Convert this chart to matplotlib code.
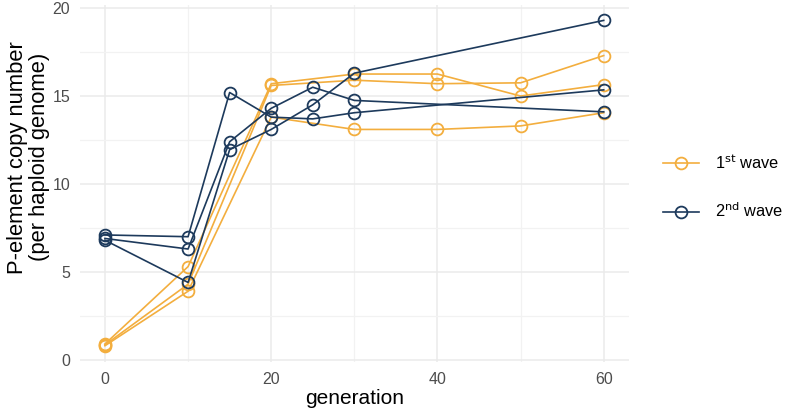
import matplotlib
matplotlib.use("Agg")
import matplotlib.pyplot as plt
from matplotlib.ticker import MultipleLocator

plt.rcParams['font.family'] = ['Liberation Sans', 'DejaVu Sans']

# 1st wave: three replicates
gen1 = [0, 10, 20, 30, 40, 50, 60]
wave1_r1 = [0.9, 5.3, 15.7, 16.25, 16.25, 15.0, 15.65]
wave1_r2 = [0.85, 4.3, 15.6, 15.9, 15.7, 15.75, 17.3]
wave1_r3 = [0.8, 3.9, 13.8, 13.1, 13.1, 13.3, 14.05]

# 2nd wave: three replicates
gen2 = [0, 10, 15, 20, 25, 30, 60]
wave2_r1 = [7.1, 7.0, 15.2, 13.8, 13.7, 14.05, 15.35]
wave2_r2 = [6.9, 6.3, 12.4, 14.3, 15.5, 14.75, 14.1]
wave2_r3 = [6.8, 4.4, 11.95, 13.1, 14.5, 16.3, 19.3]

orange = "#F3AE3E"
blue = "#1D3A5C"

fig = plt.figure(figsize=(7.86, 4.16), dpi=100)
ax = fig.add_axes([0.1018, 0.130, 0.698, 0.859])

style = dict(marker='o', markersize=8.5, markerfacecolor='none',
             markeredgewidth=1.3, linewidth=1.2)

for i, ys in enumerate([wave1_r1, wave1_r2, wave1_r3]):
    ax.plot(gen1, ys, color=orange, label=r'1$^{\mathrm{st}}$ wave' if i == 0 else None, **style)
for i, ys in enumerate([wave2_r1, wave2_r2, wave2_r3]):
    ax.plot(gen2, ys, color=blue, label=r'2$^{\mathrm{nd}}$ wave' if i == 0 else None, **style)

ax.set_xlim(-3, 63)
ax.set_ylim(-0.12, 20.2)
ax.xaxis.set_major_locator(MultipleLocator(20))
ax.xaxis.set_minor_locator(MultipleLocator(10))
ax.yaxis.set_major_locator(MultipleLocator(5))
ax.yaxis.set_minor_locator(MultipleLocator(2.5))

ax.grid(which='major', color='#EBEBEB', linewidth=1.1)
ax.grid(which='minor', color='#F2F2F2', linewidth=0.9)
ax.set_axisbelow(True)
for s in ax.spines.values():
    s.set_visible(False)
ax.tick_params(which='both', length=0, labelsize=11.5, labelcolor='#4D4D4D', pad=7)

ax.set_xlabel("generation", fontsize=15, labelpad=2)
ax.set_ylabel("P-element copy number\n(per haploid genome)", fontsize=15.8,
              linespacing=1.05)
ax.yaxis.set_label_coords(-0.055, 0.573)

leg = ax.legend(loc='center left', bbox_to_anchor=(1.035, 0.49), frameon=False,
                fontsize=11.8, handlelength=2.2, handletextpad=1.0, labelspacing=1.8)

fig.savefig("out.png", dpi=100)
